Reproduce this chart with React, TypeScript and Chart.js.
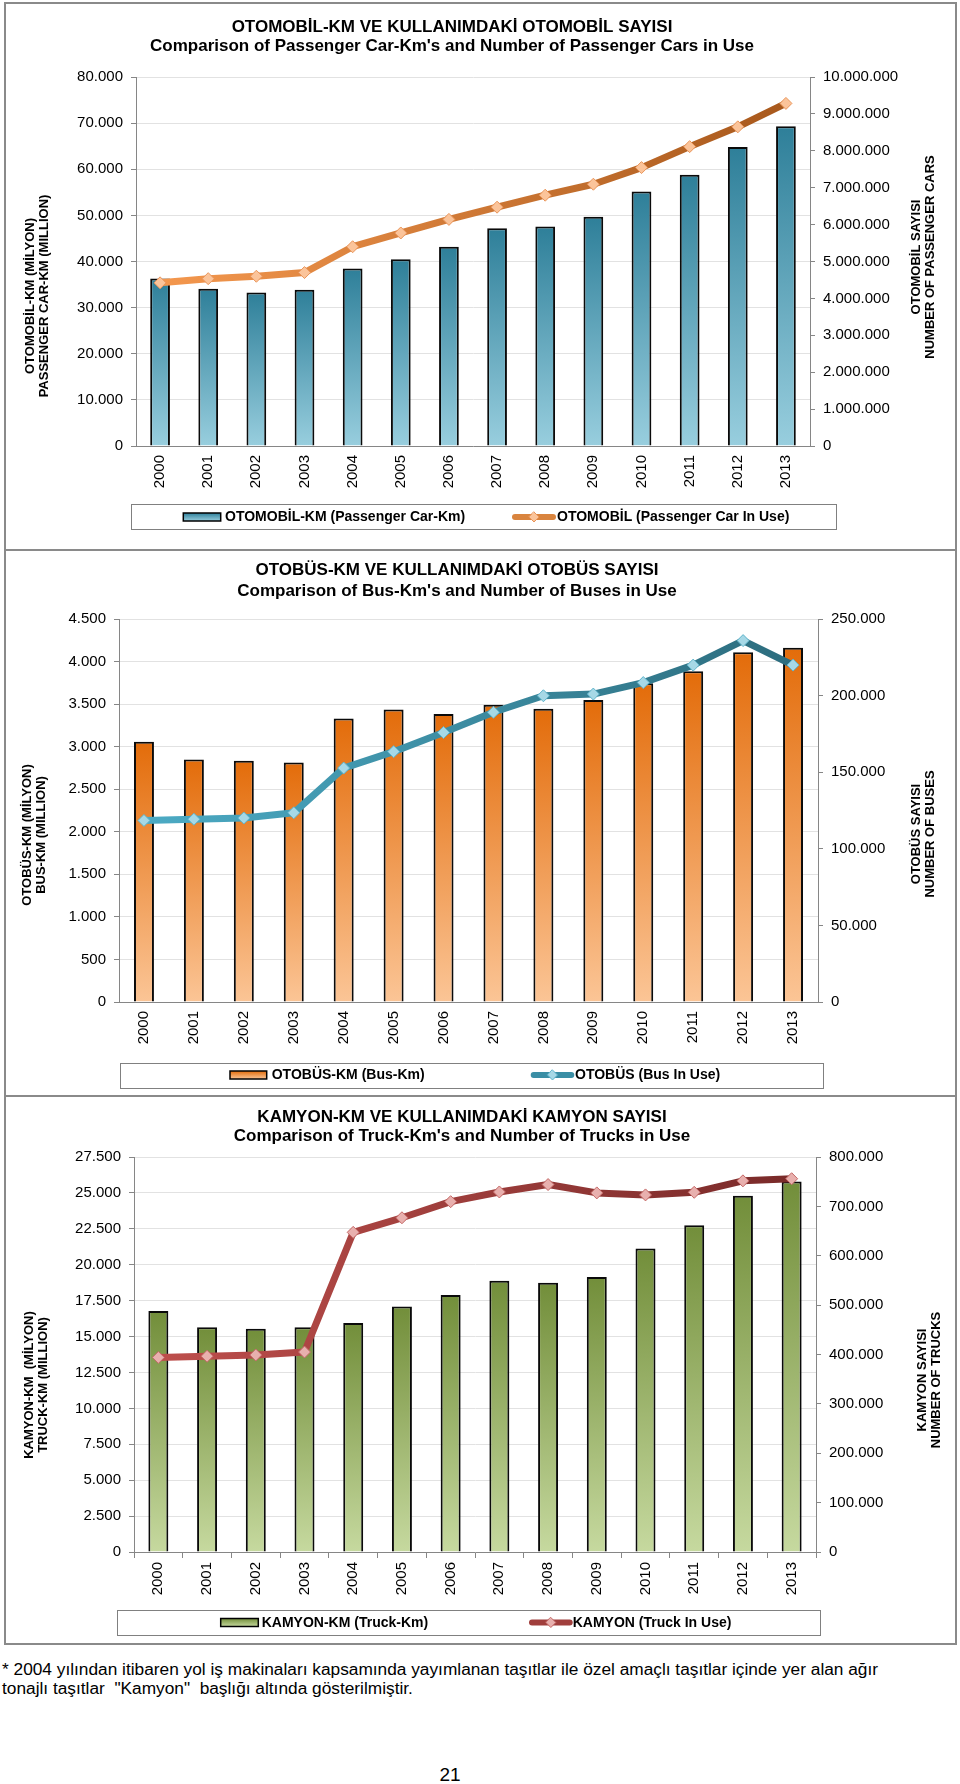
import React, { useEffect, useRef } from 'react';
import { Chart, registerables } from 'chart.js';

Chart.register(...registerables);

// ---------- data ----------
const years = ['2000', '2001', '2002', '2003', '2004', '2005', '2006', '2007', '2008', '2009', '2010', '2011', '2012', '2013'];

const carKm = [36300, 34100, 33300, 33900, 38500, 40500, 43200, 47200, 47600, 49700, 55200, 58800, 64800, 69300];
const carsInUse = [4422000, 4535000, 4600000, 4700000, 5400000, 5773000, 6141000, 6472000, 6797000, 7094000, 7545000, 8113000, 8649000, 9284000];

const busKm = [3057, 2850, 2834, 2815, 3332, 3438, 3383, 3492, 3445, 3548, 3745, 3885, 4108, 4163];
const busesInUse = [118500, 119300, 120100, 123500, 152700, 163400, 175900, 189100, 199900, 201000, 208500, 219900, 235900, 219900];

const truckKm = [16770, 15640, 15550, 15640, 15940, 17100, 17900, 18880, 18740, 19140, 21130, 22750, 24810, 25790];
const trucksInUse = [394000, 396500, 399000, 405000, 647400, 676900, 709500, 729200, 744200, 727300, 723200, 728500, 751700, 756000];

const carTitle = ['OTOMOBİL-KM VE KULLANIMDAKİ OTOMOBİL SAYISI', "Comparison of Passenger Car-Km's and Number of Passenger Cars in Use"];
const busTitle = ['OTOBÜS-KM VE KULLANIMDAKİ OTOBÜS SAYISI', "Comparison of Bus-Km's and Number of Buses in Use"];
const truckTitle = ['KAMYON-KM VE KULLANIMDAKİ KAMYON SAYISI', "Comparison of Truck-Km's and Number of Trucks in Use"];

const carAxisTitles = [['OTOMOBİL-KM (MİLYON)', 'PASSENGER CAR-KM (MILLION)'], ['OTOMOBİL SAYISI', 'NUMBER OF PASSENGER CARS']];
const busAxisTitles = [['OTOBÜS-KM (MİLYON)', 'BUS-KM (MILLION)'], ['OTOBÜS SAYISI', 'NUMBER OF BUSES']];
const truckAxisTitles = [['KAMYON-KM  (MİLYON)', 'TRUCK-KM (MILLION)'], ['KAMYON SAYISI', 'NUMBER OF TRUCKS']];

const carLegend = ['OTOMOBİL-KM (Passenger Car-Km)', 'OTOMOBİL (Passenger Car In Use)'];
const busLegend = ['OTOBÜS-KM (Bus-Km)', 'OTOBÜS (Bus In Use)'];
const truckLegend = ['KAMYON-KM (Truck-Km)', 'KAMYON (Truck In Use)'];

const carTicks = { leftMax: 80000, leftStep: 10000, rightMax: 10000000, rightStep: 1000000 };
const busTicks = { leftMax: 4500, leftStep: 500, rightMax: 250000, rightStep: 50000 };
const truckTicks = { leftMax: 27500, leftStep: 2500, rightMax: 800000, rightStep: 100000 };

const footnoteLines = [
  '* 2004 yılından itibaren yol iş makinaları kapsamında yayımlanan taşıtlar ile özel amaçlı taşıtlar içinde yer alan ağır',
  'tonajlı taşıtlar  "Kamyon"  başlığı altında gösterilmiştir.',
];
const pageNumber = '21';

// ---------- styling / layout ----------
const FAMILY = '"Liberation Sans", Arial, Helvetica, sans-serif';
const AXIS_GRAY = '#868686';

const fmt = (v: number) => String(Math.round(v)).replace(/\B(?=(\d{3})+(?!\d))/g, '.');

type PanelCfg = {
  key: string;
  pageTop: number;
  height: number;
  plot: { left: number; right: number; top: number; bottom: number };
  title: string[];
  titleX: number;
  titleY: number[];
  axisTitles: string[][];
  leftTitle: { x: number; y: number };
  rightTitle: { x: number; y: number };
  legendLabels: string[];
  bars: number[];
  line: number[];
  ticks: { leftMax: number; leftStep: number; rightMax: number; rightStep: number };
  barTop: string;
  barBottom: string;
  barPct: number;
  lineStart: string;
  lineEnd: string;
  lineMid: string;
  marker: string;
  markerBorder: string;
  xTicks: boolean;
  legend: { box: number[]; barIcon: number[]; barText: number; lineIcon: number[]; lineText: number; y: number };
};

const panels: PanelCfg[] = [
  {
    key: 'car',
    pageTop: 0,
    height: 550,
    plot: { left: 136, right: 810, top: 77, bottom: 446 },
    title: carTitle,
    titleX: 452,
    titleY: [27.5, 46.7],
    axisTitles: carAxisTitles,
    leftTitle: { x: 37.5, y: 296 },
    rightTitle: { x: 923.5, y: 257 },
    legendLabels: carLegend,
    bars: carKm,
    line: carsInUse,
    ticks: carTicks,
    barTop: '#2E7F99',
    barBottom: '#98CEDE',
    barPct: 0.41,
    lineStart: '#F79A50',
    lineEnd: '#A5561A',
    lineMid: '#D9843E',
    marker: '#FBC49A',
    markerBorder: '#E9955A',
    xTicks: false,
    legend: { box: [130.7, 504, 836, 529.3], barIcon: [183.3, 220.7], barText: 225, lineIcon: [513, 555], lineText: 557, y: 517 },
  },
  {
    key: 'bus',
    pageTop: 550,
    height: 546,
    plot: { left: 119, right: 818, top: 69, bottom: 452 },
    title: busTitle,
    titleX: 457,
    titleY: [20, 41.7],
    axisTitles: busAxisTitles,
    leftTitle: { x: 34.3, y: 285 },
    rightTitle: { x: 923.8, y: 284 },
    legendLabels: busLegend,
    bars: busKm,
    line: busesInUse,
    ticks: busTicks,
    barTop: '#E36C0A',
    barBottom: '#FBC596',
    barPct: 0.4,
    lineStart: '#4DADC7',
    lineEnd: '#2B6A7B',
    lineMid: '#3A8EA5',
    marker: '#A6D8E6',
    markerBorder: '#5FB4CB',
    xTicks: false,
    legend: { box: [120, 512.7, 822.7, 537.3], barIcon: [230, 266.7], barText: 271.7, lineIcon: [531.7, 573.3], lineText: 575, y: 525 },
  },
  {
    key: 'truck',
    pageTop: 1096,
    height: 548,
    plot: { left: 134, right: 816, top: 61, bottom: 456 },
    title: truckTitle,
    titleX: 462,
    titleY: [21, 40.5],
    axisTitles: truckAxisTitles,
    leftTitle: { x: 36.7, y: 289 },
    rightTitle: { x: 929, y: 284 },
    legendLabels: truckLegend,
    bars: truckKm,
    line: trucksInUse,
    ticks: truckTicks,
    barTop: '#728E3A',
    barBottom: '#C6D99F',
    barPct: 0.41,
    lineStart: '#C0504D',
    lineEnd: '#772928',
    lineMid: '#A03E3C',
    marker: '#E8B0AE',
    markerBorder: '#C46866',
    xTicks: true,
    legend: { box: [116.7, 514, 820, 539], barIcon: [220.7, 258.3], barText: 261.7, lineIcon: [530, 571.7], lineText: 572.7, y: 526.5 },
  },
];

function drawDiamond(c: CanvasRenderingContext2D, x: number, y: number, r: number, fill: string, stroke: string) {
  c.beginPath();
  c.moveTo(x, y - r);
  c.lineTo(x + r, y);
  c.lineTo(x, y + r);
  c.lineTo(x - r, y);
  c.closePath();
  c.fillStyle = fill;
  c.fill();
  c.lineWidth = 1;
  c.strokeStyle = stroke;
  c.stroke();
}

function rotLines(c: CanvasRenderingContext2D, lines: string[], cx: number, cy: number, gap: number) {
  c.save();
  c.translate(cx, cy);
  c.rotate(-Math.PI / 2);
  lines.forEach((t, i) => c.fillText(t, 0, (i - (lines.length - 1) / 2) * gap));
  c.restore();
}

function PanelChart({ p }: { p: PanelCfg }) {
  const ref = useRef<HTMLCanvasElement>(null);

  useEffect(() => {
    const canvas = ref.current;
    if (!canvas) return;

    const decor = {
      id: 'decor_' + p.key,
      afterDraw(chart: any) {
        const c: CanvasRenderingContext2D = chart.ctx;
        c.save();
        c.fillStyle = '#000';
        // titles
        c.textAlign = 'center';
        c.textBaseline = 'middle';
        c.font = `bold 17px ${FAMILY}`;
        c.fillText(p.title[0], p.titleX, p.titleY[0]);
        c.fillText(p.title[1], p.titleX, p.titleY[1]);
        // axis titles
        c.font = `bold 13px ${FAMILY}`;
        rotLines(c, p.axisTitles[0], p.leftTitle.x, p.leftTitle.y, 14);
        rotLines(c, p.axisTitles[1], p.rightTitle.x, p.rightTitle.y, 14);
        // legend
        const L = p.legend;
        c.strokeStyle = '#808080';
        c.lineWidth = 1;
        c.strokeRect(Math.round(L.box[0]) + 0.5, Math.round(L.box[1]) + 0.5, Math.round(L.box[2] - L.box[0]), Math.round(L.box[3] - L.box[1]));
        const iy = L.y;
        const g = c.createLinearGradient(0, iy - 4, 0, iy + 4);
        g.addColorStop(0, p.barTop);
        g.addColorStop(1, p.barBottom);
        c.fillStyle = g;
        c.fillRect(L.barIcon[0], iy - 4, L.barIcon[1] - L.barIcon[0], 8);
        c.strokeStyle = '#000';
        c.lineWidth = 1.5;
        c.strokeRect(L.barIcon[0], iy - 4, L.barIcon[1] - L.barIcon[0], 8);
        c.strokeStyle = p.lineMid;
        c.lineWidth = 6;
        c.lineCap = 'round';
        c.beginPath();
        c.moveTo(L.lineIcon[0] + 2, iy);
        c.lineTo(L.lineIcon[1] - 2, iy);
        c.stroke();
        drawDiamond(c, (L.lineIcon[0] + L.lineIcon[1]) / 2, iy, 5, p.marker, p.markerBorder);
        c.fillStyle = '#000';
        c.textAlign = 'left';
        c.textBaseline = 'middle';
        c.font = `bold 14px ${FAMILY}`;
        c.fillText(p.legendLabels[0], L.barText, iy + 0.5);
        c.fillText(p.legendLabels[1], L.lineText, iy + 0.5);
        c.restore();
      },
    };

    const tickFont = { family: FAMILY, size: 15 };

    const chart = new Chart(canvas, {
      type: 'bar',
      data: {
        labels: years,
        datasets: [
          {
            type: 'line',
            label: p.legendLabels[1],
            data: p.line,
            yAxisID: 'y1',
            order: 0,
            borderColor: (ctx: any) => {
              const ch = ctx.chart;
              const a = ch.chartArea;
              if (!a) return p.lineStart;
              const gr = ch.ctx.createLinearGradient(a.left, 0, a.right, 0);
              gr.addColorStop(0, p.lineStart);
              gr.addColorStop(1, p.lineEnd);
              return gr;
            },
            borderWidth: 7,
            borderJoinStyle: 'round',
            borderCapStyle: 'round',
            tension: 0,
            fill: false,
            pointStyle: 'rectRot',
            pointRadius: 6,
            pointBackgroundColor: p.marker,
            pointBorderColor: p.markerBorder,
            pointBorderWidth: 1,
            clip: false,
          } as any,
          {
            type: 'bar',
            label: p.legendLabels[0],
            data: p.bars,
            yAxisID: 'y',
            order: 1,
            backgroundColor: (ctx: any) => {
              const ch = ctx.chart;
              if (!ch.chartArea || !ch.scales || !ch.scales.y) return p.barTop;
              const ys = ch.scales.y;
              const v = typeof ctx.raw === 'number' ? ctx.raw : 0;
              const yTop = ys.getPixelForValue(v);
              const yBot = ys.getPixelForValue(0);
              const gr = ch.ctx.createLinearGradient(0, yTop, 0, yBot);
              gr.addColorStop(0, p.barTop);
              gr.addColorStop(1, p.barBottom);
              return gr;
            },
            borderColor: '#0a0a0a',
            borderWidth: 2,
            barPercentage: p.barPct,
            categoryPercentage: 1,
          } as any,
        ],
      },
      options: {
        responsive: false,
        animation: false,
        events: [],
        devicePixelRatio: 1,
        layout: { padding: { top: p.plot.top, left: 0, right: 0, bottom: 0 } },
        plugins: {
          legend: { display: false },
          title: { display: false },
          tooltip: { enabled: false },
        },
        scales: {
          x: {
            type: 'category',
            offset: true,
            grid: {
              display: p.xTicks,
              drawOnChartArea: false,
              drawTicks: p.xTicks,
              tickLength: 6,
              tickColor: AXIS_GRAY,
              offset: true,
            },
            border: { display: true, color: AXIS_GRAY, width: 1 },
            ticks: {
              minRotation: 90,
              maxRotation: 90,
              autoSkip: false,
              padding: p.xTicks ? 4 : 9,
              color: '#000',
              font: tickFont,
            },
            afterFit: (s: any) => {
              s.height = p.height - p.plot.bottom;
            },
          },
          y: {
            type: 'linear',
            position: 'left',
            min: 0,
            max: p.ticks.leftMax,
            grid: { color: '#E2E2E2', tickColor: AXIS_GRAY, tickLength: 5, lineWidth: 1 },
            border: { display: true, color: AXIS_GRAY, width: 1 },
            ticks: {
              stepSize: p.ticks.leftStep,
              padding: 8,
              color: '#000',
              font: tickFont,
              callback: (v: any) => fmt(Number(v)),
            },
            afterFit: (s: any) => {
              s.width = p.plot.left;
            },
          },
          y1: {
            type: 'linear',
            position: 'right',
            min: 0,
            max: p.ticks.rightMax,
            grid: { drawOnChartArea: false, tickColor: AXIS_GRAY, tickLength: 5 },
            border: { display: true, color: AXIS_GRAY, width: 1 },
            ticks: {
              stepSize: p.ticks.rightStep,
              padding: 8,
              color: '#000',
              font: tickFont,
              callback: (v: any) => fmt(Number(v)),
            },
            afterFit: (s: any) => {
              s.width = 960 - p.plot.right;
            },
          },
        },
      } as any,
      plugins: [decor as any],
    });

    return () => chart.destroy();
  }, [p]);

  return (
    <canvas
      ref={ref}
      width={960}
      height={p.height}
      style={{ position: 'absolute', left: 0, top: p.pageTop, width: 960, height: p.height, display: 'block' }}
    />
  );
}

const borderBoxes = [
  { top: 2, height: 549 },
  { top: 549, height: 548 },
  { top: 1095, height: 550 },
];

export default function App() {
  return (
    <div style={{ position: 'absolute', left: 0, top: 0, width: 960, height: 1784, background: '#fff', overflow: 'hidden' }}>
      {panels.map((p) => (
        <PanelChart key={p.key} p={p} />
      ))}
      {borderBoxes.map((b, i) => (
        <div
          key={i}
          style={{
            position: 'absolute',
            left: 4,
            top: b.top,
            width: 953,
            height: b.height,
            border: '2px solid #8a8a8a',
            boxSizing: 'border-box',
            pointerEvents: 'none',
          }}
        />
      ))}
      <div
        style={{
          position: 'absolute',
          left: 2,
          top: 1660,
          fontFamily: FAMILY,
          fontSize: 17.3,
          lineHeight: '19px',
          color: '#000',
          whiteSpace: 'pre',
        }}
      >
        {footnoteLines[0]}
        <br />
        {footnoteLines[1]}
      </div>
      <div
        style={{
          position: 'absolute',
          left: 0,
          width: 900,
          top: 1764,
          textAlign: 'center',
          fontFamily: FAMILY,
          fontSize: 19,
          lineHeight: '22px',
          color: '#000',
        }}
      >
        {pageNumber}
      </div>
    </div>
  );
}
